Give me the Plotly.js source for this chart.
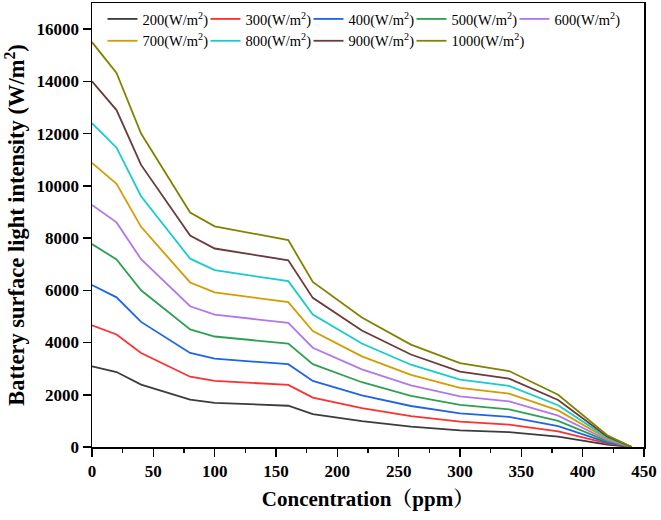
<!DOCTYPE html>
<html>
<head>
<meta charset="utf-8">
<script src="https://cdn.plot.ly/plotly-3.0.1.min.js"></script>
<style>html,body{margin:0;padding:0;background:#fff;}#chart{width:661px;height:520px;}</style>
</head>
<body>
<div id="chart"></div>
<script>
// Concentration (ppm)
const concentration = [0, 20, 40, 80, 100, 160, 180, 220, 260, 300, 340, 380, 420, 440];

// Series names
const seriesNames = ['200(W/m<sup>2</sup>)', '300(W/m<sup>2</sup>)', '400(W/m<sup>2</sup>)', '500(W/m<sup>2</sup>)', '600(W/m<sup>2</sup>)',
                     '700(W/m<sup>2</sup>)', '800(W/m<sup>2</sup>)', '900(W/m<sup>2</sup>)', '1000(W/m<sup>2</sup>)'];

// Battery surface light intensity (W/m2)
const s200  = [3090, 2870, 2390, 1810, 1690, 1580, 1260, 990, 780, 640, 570, 400, 90, 0];
const s300  = [4660, 4310, 3600, 2690, 2530, 2380, 1890, 1490, 1180, 970, 860, 600, 135, 0];
const s400  = [6200, 5730, 4790, 3600, 3380, 3170, 2530, 1980, 1570, 1290, 1150, 800, 180, 0];
const s500  = [7770, 7180, 6000, 4500, 4230, 3960, 3170, 2480, 1960, 1610, 1440, 1000, 225, 0];
const s600  = [9270, 8600, 7190, 5390, 5070, 4750, 3800, 2970, 2360, 1940, 1750, 1200, 270, 0];
const s700  = [10880, 10080, 8430, 6300, 5920, 5550, 4440, 3470, 2760, 2260, 2040, 1400, 315, 0];
const s800  = [12400, 11460, 9600, 7210, 6770, 6350, 5070, 3960, 3150, 2580, 2340, 1600, 360, 0];
const s900  = [14000, 12900, 10800, 8100, 7600, 7150, 5710, 4460, 3540, 2890, 2620, 1800, 405, 0];
const s1000 = [15500, 14320, 12000, 8980, 8450, 7920, 6320, 4960, 3920, 3210, 2910, 2000, 450, 0];

const seriesValues = [s200, s300, s400, s500, s600, s700, s800, s900, s1000];
const seriesColors = ['#3c3c3c', '#ff3030', '#1f64e6', '#2ea052', '#b277ea', '#d49c00', '#16cccc', '#6d3a3a', '#828200'];

const xTicks = [0, 50, 100, 150, 200, 250, 300, 350, 400, 450];
const yTicks = [0, 2000, 4000, 6000, 8000, 10000, 12000, 14000, 16000];

const serif = '"Liberation Serif", "Times New Roman", "Noto Serif CJK SC", "Noto Sans CJK SC", serif';

const traces = seriesValues.map((vals, i) => ({
  x: concentration,
  y: vals,
  name: seriesNames[i],
  type: 'scatter',
  mode: 'lines',
  line: {color: seriesColors[i], width: 1.8},
}));

const layout = {
  width: 661,
  height: 520,
  margin: {l: 92, r: 17, t: 3, b: 73},
  paper_bgcolor: '#ffffff',
  plot_bgcolor: '#ffffff',
  font: {family: serif, color: '#000000'},
  showlegend: true,
  legend: {
    orientation: 'h',
    x: 0.019, xanchor: 'left',
    y: 1.0, yanchor: 'top',
    bgcolor: 'rgba(0,0,0,0)',
    font: {family: serif, size: 14.5, color: '#000'},
    entrywidth: 58,
    entrywidthmode: 'pixels',
    tracegroupgap: 0,
  },
  xaxis: {
    range: [0, 450],
    tickvals: xTicks,
    ticktext: xTicks.map(String),
    ticks: 'outside',
    ticklen: 8,
    tickwidth: 1.5,
    tickcolor: '#000',
    showline: true,
    linecolor: '#000',
    linewidth: 1.5,
    mirror: true,
    showgrid: false,
    zeroline: false,
    automargin: false,
    tickfont: {family: serif, size: 17, color: '#000', weight: 'bold'},
    minor: {dtick: 25, tick0: 0, ticks: 'outside', ticklen: 4, tickwidth: 1.2, tickcolor: '#000', showgrid: false},
    title: {text: '<b>Concentration（ppm）</b>', font: {family: serif, size: 21, color: '#000'}, standoff: 11},
  },
  yaxis: {
    range: [0, 17000],
    tickvals: yTicks,
    ticktext: yTicks.map(String),
    ticks: 'outside',
    ticklen: 8,
    tickwidth: 1.5,
    tickcolor: '#000',
    showline: true,
    linecolor: '#000',
    linewidth: 1.5,
    mirror: true,
    showgrid: false,
    zeroline: false,
    automargin: false,
    tickfont: {family: serif, size: 17, color: '#000', weight: 'bold'},
    title: {text: '<b>Battery surface light intensity (W/m<sup>2</sup>)</b>', font: {family: serif, size: 22.5, color: '#000'}, standoff: 5},
  },
};

Plotly.newPlot('chart', traces, layout, {displayModeBar: false, staticPlot: true}).then(function (gd) {
  // let the last legend column's text show fully instead of being clipped
  gd.querySelectorAll('.legend .scrollbox').forEach(function (el) { el.removeAttribute('clip-path'); });
});
</script>
</body>
</html>
